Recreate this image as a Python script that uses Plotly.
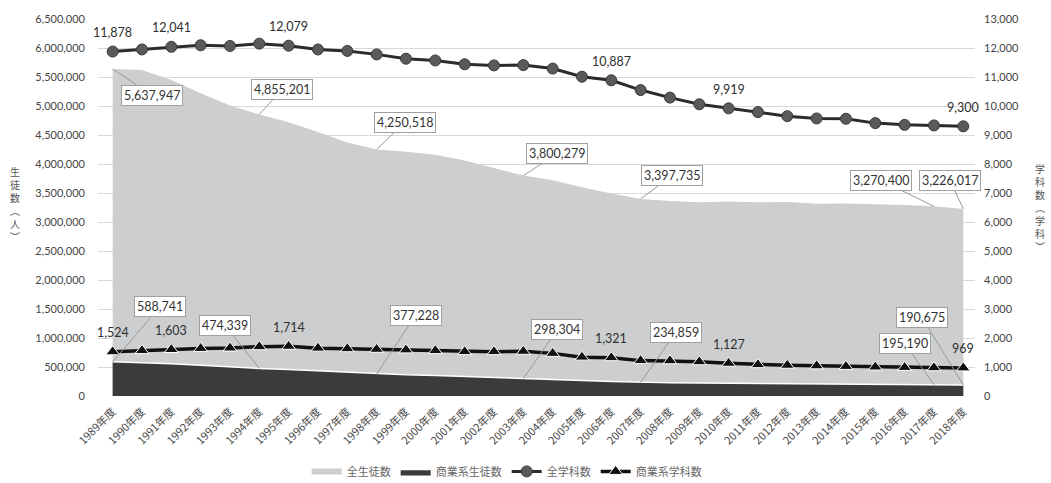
import plotly.graph_objects as go

# 年度
years = [f"{y}年度" for y in range(1989, 2019)]

# 全生徒数（人）
total_students = [5637947, 5620000, 5450000, 5220000, 5010000, 4855201, 4720000, 4550000,
                  4370000, 4250518, 4210000, 4160000, 4060000, 3930000, 3800279, 3720000,
                  3600000, 3490000, 3397735, 3360000, 3340000, 3355000, 3340000, 3345000,
                  3315000, 3320000, 3305000, 3295000, 3270400, 3226017]

# 商業系生徒数（人）
commerce_students = [588741, 575000, 555000, 530000, 500000, 474339, 455000, 430000,
                     405000, 377228, 365000, 355000, 340000, 320000, 298304, 285000,
                     268000, 250000, 234859, 228000, 222000, 220000, 217000, 213000,
                     210000, 207000, 203000, 199000, 195190, 190675]

# 全学科数（学科）
total_depts = [11878, 11950, 12041, 12095, 12070, 12150, 12079, 11950, 11900, 11780,
               11630, 11570, 11440, 11400, 11410, 11290, 11010, 10887, 10550, 10290,
               10060, 9919, 9790, 9650, 9570, 9560, 9410, 9350, 9330, 9300]

# 商業系学科数（学科）
commerce_depts = [1524, 1565, 1603, 1640, 1655, 1700, 1714, 1650, 1630, 1610,
                  1590, 1565, 1530, 1530, 1540, 1470, 1340, 1321, 1220, 1215,
                  1180, 1127, 1080, 1060, 1040, 1020, 1000, 985, 975, 969]

# 数値ラベルを付ける年（インデックス）と吹き出しの位置（px）
total_label_pos = {0: (39, 26), 5: (23, -25), 9: (28, -27), 14: (34, -22),
                   18: (31, -23), 28: (-53, -26), 29: (-13, -28)}
commerce_label_pos = {0: (47, -55), 5: (-34, -43), 9: (39, -59), 14: (34, -49),
                      18: (35, -50), 28: (-29, -41), 29: (-41, -67)}
total_dept_labels = [0, 2, 6, 17, 21, 29]
commerce_dept_labels = [0, 2, 6, 17, 21, 29]

FONT = "Lato, 'Noto Sans CJK JP', sans-serif"
JP_FONT = "'Noto Sans CJK JP', sans-serif"
x = list(range(len(years)))

fig = go.Figure()

fig.add_trace(go.Scatter(
    x=x, y=total_students, name="全生徒数", mode="none",
    fill="tozeroy", fillcolor="#cdcecf", yaxis="y",
))
fig.add_trace(go.Scatter(
    x=x, y=commerce_students, name="商業系生徒数", mode="lines",
    fill="tozeroy", fillcolor="#3b3b3b", line=dict(color="#ffffff", width=1.5),
    yaxis="y",
))
fig.add_trace(go.Scatter(
    x=x, y=total_depts, name="全学科数", mode="lines+markers",
    line=dict(color="#2b2b2b", width=3),
    marker=dict(symbol="circle", size=11, color="#5a5a5a",
                line=dict(color="#3a3a3a", width=1)),
    yaxis="y2",
))
fig.add_trace(go.Scatter(
    x=x, y=commerce_depts, name="商業系学科数", mode="lines+markers",
    line=dict(color="#111111", width=3.5),
    marker=dict(symbol="triangle-up", size=12, color="#111111",
                line=dict(color="#ffffff", width=1)),
    yaxis="y2",
))

annotations = []
box = dict(showarrow=True, arrowhead=0, arrowwidth=1, arrowcolor="#9a9a9a",
           bgcolor="#ffffff", bordercolor="#a0a0a0", borderwidth=1, borderpad=2,
           font=dict(family=FONT, size=12.5, color="#333333"))
for i, (ax, ay) in total_label_pos.items():
    annotations.append(dict(x=i, y=total_students[i], xref="x", yref="y",
                            text=f"{total_students[i]:,}", ax=ax, ay=ay, **box))
for i, (ax, ay) in commerce_label_pos.items():
    annotations.append(dict(x=i, y=commerce_students[i], xref="x", yref="y",
                            text=f"{commerce_students[i]:,}", ax=ax, ay=ay, **box))

plain = dict(showarrow=False, font=dict(family=FONT, size=12.5, color="#2e2e2e"))
for i in total_dept_labels:
    annotations.append(dict(x=i, y=total_depts[i], xref="x", yref="y2",
                            text=f"{total_depts[i]:,}", yshift=19, **plain))
for i in commerce_dept_labels:
    annotations.append(dict(x=i, y=commerce_depts[i], xref="x", yref="y2",
                            text=f"{commerce_depts[i]:,}", yshift=19, **plain))

# 縦書きの軸タイトル
annotations.append(dict(x=-0.095, y=0.51, xref="paper", yref="paper",
                        text="生<br>徒<br>数<br>︵<br>人<br>︶", showarrow=False,
                        xanchor="center", yanchor="middle",
                        font=dict(family=JP_FONT, size=10, color="#555555")))
annotations.append(dict(x=1.074, y=0.50, xref="paper", yref="paper",
                        text="学<br>科<br>数<br>︵<br>学<br>科<br>︶", showarrow=False,
                        xanchor="center", yanchor="middle",
                        font=dict(family=JP_FONT, size=10, color="#555555")))

fig.update_layout(
    width=1051, height=483,
    margin=dict(l=98, r=76, t=19, b=87, autoexpand=False),
    paper_bgcolor="#ffffff", plot_bgcolor="#ffffff",
    font=dict(family=FONT, size=11, color="#444444"),
    showlegend=True,
    legend=dict(orientation="h", x=0.466, xanchor="center", y=-0.2, yanchor="middle",
                font=dict(family=JP_FONT, size=11, color="#666666"),
                itemwidth=30, tracegroupgap=0),
    xaxis=dict(
        range=[-0.5, 29.4], tickmode="array", tickvals=x, ticktext=years,
        tickangle=-45, showgrid=False, zeroline=False, showline=False,
        tickfont=dict(family=JP_FONT, size=11, color="#4a4a4a"),
        ticklabelstandoff=6, automargin=False,
    ),
    yaxis=dict(
        range=[0, 6500000], dtick=500000, tickformat=",", showgrid=True,
        gridcolor="#d9d9d9", gridwidth=1, zeroline=False, showline=False,
        tickfont=dict(family=FONT, size=11, color="#444444"),
        ticklabelstandoff=12, automargin=False,
    ),
    yaxis2=dict(
        range=[0, 13000], dtick=1000, tickformat=",", overlaying="y", side="right",
        showgrid=False, zeroline=False, showline=False,
        tickfont=dict(family=FONT, size=11, color="#444444"),
        ticklabelstandoff=8, automargin=False,
    ),
    annotations=annotations,
)

fig.write_html("out.html")
